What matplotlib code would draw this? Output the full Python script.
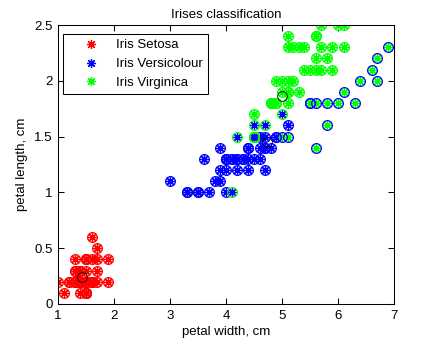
import numpy as np
import matplotlib
matplotlib.use("Agg")
import matplotlib.pyplot as plt

plt.rcParams["font.family"] = ["Liberation Sans", "DejaVu Sans"]
plt.rcParams["font.size"] = 9.5

# petal length / width per class (Fisher iris data, UCI ordering)
setosa_x = [1.4, 1.4, 1.3, 1.5, 1.4, 1.7, 1.4, 1.5, 1.4, 1.5, 1.5, 1.6, 1.4, 1.1, 1.2, 1.5, 1.3,
            1.4, 1.7, 1.5, 1.7, 1.5, 1.0, 1.7, 1.9, 1.6, 1.6, 1.5, 1.4, 1.6, 1.6, 1.5, 1.5, 1.4,
            1.5, 1.2, 1.3, 1.5, 1.3, 1.5, 1.3, 1.3, 1.3, 1.6, 1.9, 1.4, 1.6, 1.4, 1.5, 1.4]
setosa_y = [0.2, 0.2, 0.2, 0.2, 0.2, 0.4, 0.3, 0.2, 0.2, 0.1, 0.2, 0.2, 0.1, 0.1, 0.2, 0.4, 0.4,
            0.3, 0.3, 0.3, 0.2, 0.4, 0.2, 0.5, 0.2, 0.2, 0.4, 0.2, 0.2, 0.2, 0.2, 0.4, 0.1, 0.2,
            0.1, 0.2, 0.2, 0.1, 0.2, 0.2, 0.3, 0.3, 0.2, 0.6, 0.4, 0.3, 0.2, 0.2, 0.2, 0.2]
versi_x = [4.7, 4.5, 4.9, 4.0, 4.6, 4.5, 4.7, 3.3, 4.6, 3.9, 3.5, 4.2, 4.0, 4.7, 3.6, 4.4, 4.5,
           4.1, 4.5, 3.9, 4.8, 4.0, 4.9, 4.7, 4.3, 4.4, 4.8, 5.0, 4.5, 3.5, 3.8, 3.7, 3.9, 5.1,
           4.5, 4.5, 4.7, 4.4, 4.1, 4.0, 4.4, 4.6, 4.0, 3.3, 4.2, 4.2, 4.2, 4.3, 3.0, 4.1]
versi_y = [1.4, 1.5, 1.5, 1.3, 1.5, 1.3, 1.6, 1.0, 1.3, 1.4, 1.0, 1.5, 1.0, 1.4, 1.3, 1.4, 1.5,
           1.0, 1.5, 1.1, 1.8, 1.3, 1.5, 1.2, 1.3, 1.4, 1.4, 1.7, 1.5, 1.0, 1.1, 1.0, 1.2, 1.6,
           1.5, 1.6, 1.5, 1.3, 1.3, 1.3, 1.2, 1.4, 1.2, 1.0, 1.3, 1.2, 1.3, 1.3, 1.1, 1.3]
virgi_x = [6.0, 5.1, 5.9, 5.6, 5.8, 6.6, 4.5, 6.3, 5.8, 6.1, 5.1, 5.3, 5.5, 5.0, 5.1, 5.3, 5.5,
           6.7, 6.9, 5.0, 5.7, 4.9, 6.7, 4.9, 5.7, 6.0, 4.8, 4.9, 5.6, 5.8, 6.1, 6.4, 5.6, 5.1,
           5.6, 6.1, 5.6, 5.5, 4.8, 5.4, 5.6, 5.1, 5.1, 5.9, 5.7, 5.2, 5.0, 5.2, 5.4, 5.1]
virgi_y = [2.5, 1.9, 2.1, 1.8, 2.2, 2.1, 1.7, 1.8, 1.8, 2.5, 2.0, 1.9, 2.1, 2.0, 2.4, 2.3, 1.8,
           2.2, 2.3, 1.5, 2.3, 2.0, 2.0, 1.8, 2.1, 1.8, 1.8, 1.8, 2.1, 1.6, 1.9, 2.0, 2.2, 1.5,
           1.4, 2.3, 2.4, 1.8, 1.8, 2.1, 2.4, 2.3, 1.9, 2.3, 2.5, 2.3, 1.9, 2.0, 2.3, 1.8]

# predicted class (0 setosa, 1 versicolour, 2 virginica)
setosa_pred = [0] * 50
versi_pred = [1, 2, 1, 1, 1, 1, 2, 1, 1, 1, 1, 2, 1, 1, 1, 1, 2,
              2, 2, 1, 2, 1, 1, 1, 1, 1, 1, 2, 2, 1, 1, 1, 1, 1,
              2, 2, 1, 1, 1, 1, 1, 1, 1, 1, 1, 1, 1, 1, 1, 1]
virgi_pred = [2, 2, 2, 1, 2, 1, 2, 1, 1, 2, 2, 2, 2, 2, 2, 2, 1,
              1, 1, 1, 2, 2, 1, 2, 2, 1, 2, 2, 2, 1, 1, 1, 2, 1,
              1, 2, 2, 1, 2, 2, 2, 2, 2, 2, 2, 2, 2, 2, 2, 2]

# class centres (black rings)
centre_x = [1.43, 4.74, 5.0]
centre_y = [0.24, 1.455, 1.865]

labels = ["Iris Setosa", "Iris Versicolour", "Iris Virginica"]
colors = [(1, 0, 0), (0, 0, 1), (0, 1, 0)]

fig = plt.figure(figsize=(4.35, 3.42), dpi=100)
ax = fig.add_axes([58 / 435, 38 / 342, 336 / 435, 279 / 342])

star = (8, 2, 0)
ms = 6.5
xs = [setosa_x, versi_x, virgi_x]
ys = [setosa_y, versi_y, virgi_y]
preds = [setosa_pred, versi_pred, virgi_pred]

handles = []
for k in range(3):
    h, = ax.plot(xs[k], ys[k], linestyle="none", marker=star, ms=ms, mew=0.9,
                 color=colors[k], label=labels[k])
    handles.append(h)

all_x = np.concatenate(xs)
all_y = np.concatenate(ys)
all_p = np.concatenate(preds)
for k in range(3):
    m = all_p == k
    ax.plot(all_x[m], all_y[m], linestyle="none", marker="o", ms=ms + 0.5, mew=0.9,
            mfc="none", mec=colors[k])

ax.plot(centre_x, centre_y, linestyle="none", marker="o", ms=7, mew=0.6,
        mfc="none", mec="black")

ax.set_xlim(1, 7)
ax.set_ylim(0, 2.5)
ax.set_xticks(range(1, 8))
ax.set_yticks([0, 0.5, 1, 1.5, 2, 2.5])
ax.set_yticklabels(["0", "0.5", "1", "1.5", "2", "2.5"])
ax.tick_params(direction="in", top=True, right=True, length=4, width=0.75, pad=4)
for s in ax.spines.values():
    s.set_linewidth(0.75)

ax.set_title("Irises classification", fontsize=9.5, pad=5)
ax.set_xlabel("petal width, cm", labelpad=3)
ax.set_ylabel("petal length, cm", labelpad=4)

leg = ax.legend(handles=handles, loc="upper left", bbox_to_anchor=(0.0149, 0.968),
                borderaxespad=0, fancybox=False, framealpha=1, edgecolor="black",
                handlelength=3.5, handletextpad=0.1, labelspacing=0.5, borderpad=0.4,
                numpoints=1)
leg.get_frame().set_linewidth(0.75)

fig.savefig("out.png", dpi=100)
